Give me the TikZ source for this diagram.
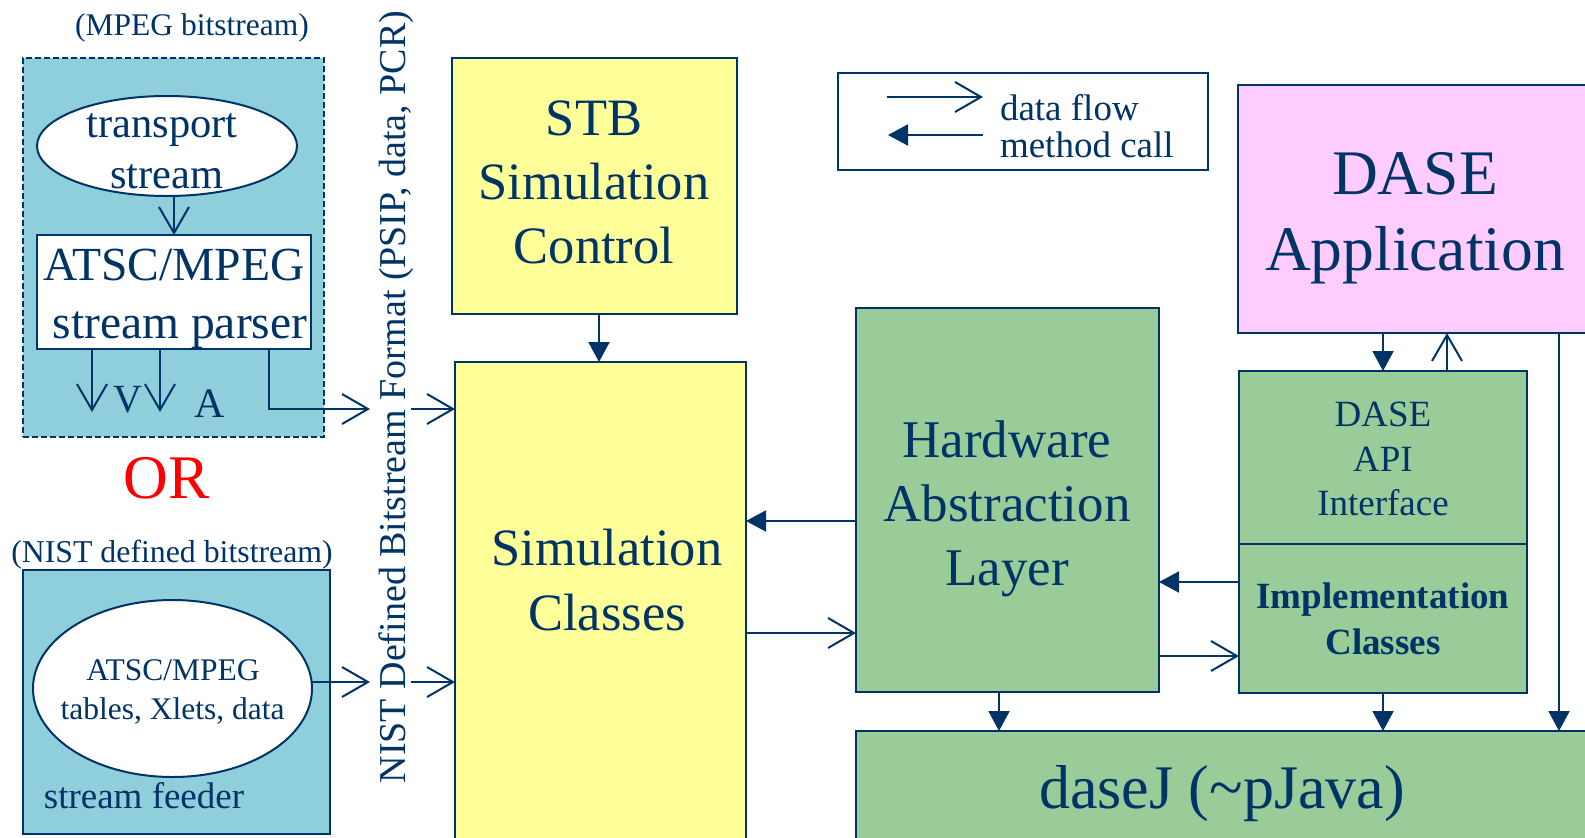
\documentclass[tikz,border=0pt]{standalone}
\usepackage{fontspec}
\setmainfont{Liberation Serif}
\usetikzlibrary{arrows.meta,shapes.geometric}
\definecolor{navy}{RGB}{0,51,102}
\definecolor{tealfill}{RGB}{143,207,219}
\definecolor{yel}{RGB}{255,255,153}
\definecolor{grn}{RGB}{153,204,153}
\definecolor{pnk}{RGB}{255,204,255}
\newcommand{\myfs}[1]{\fontsize{#1}{#1}\selectfont}
\begin{document}
\begin{tikzpicture}[x=1pt,y=-1pt,
  box/.style={draw=navy, line width=2pt, rectangle, inner sep=0pt, outer sep=0pt, anchor=north west},
  oval/.style={draw=navy, line width=2pt, fill=white, ellipse, inner sep=0pt, outer sep=0pt},
  lbl/.style={text=navy, inner sep=0pt, outer sep=0pt, anchor=base},
  flow/.style={draw=navy, line width=2pt, -{Straight Barb[length=26pt,width=30pt]}},
  call/.style={draw=navy, line width=2pt, -{Triangle[length=20pt,width=21pt]}}]
\useasboundingbox (0,0) rectangle (1585,838);

% ---------------- left: MPEG bitstream ----------------
\node[box, fill=tealfill, line width=1.6pt, dash pattern=on 6pt off 3pt, minimum width=301pt, minimum height=379pt] (mpegbox) at (23,58) {};
\node[lbl, font=\myfs{31.5}] (mpeglbl) at (192,35) {(MPEG bitstream)};
\node[oval, minimum width=260pt, minimum height=100pt] (ts) at (167,146) {};
\node[box, fill=white, minimum width=274pt, minimum height=114pt] (parser) at (37,235) {};

% ---------------- left: NIST bitstream ----------------
\node[lbl, font=\myfs{31.8}] (nistlbl) at (172,562) {(NIST defined bitstream)};
\node[box, fill=tealfill, minimum width=307pt, minimum height=264pt] (feeder) at (23,570) {};
\node[oval, minimum width=279pt, minimum height=177pt] (tables) at (172.5,688.5) {};

% ---------------- yellow boxes ----------------
\node[box, fill=yel, minimum width=285pt, minimum height=256pt] (stb) at (452,58) {};
\node[box, fill=yel, minimum width=291pt, minimum height=500pt] (sim) at (455,362) {};

% ---------------- legend ----------------
\node[box, fill=white, minimum width=370pt, minimum height=97pt] (legend) at (838,73) {};

% ---------------- green / pink boxes ----------------
\node[box, fill=grn, minimum width=303pt, minimum height=384pt] (hal) at (856,308) {};
\node[box, fill=pnk, minimum width=362pt, minimum height=248pt] (app) at (1238,85) {};
\node[box, fill=grn, minimum width=288pt, minimum height=173pt] (api) at (1239,371) {};
\node[box, fill=grn, minimum width=288pt, minimum height=149pt] (impl) at (1239,544) {};
\node[box, fill=grn, minimum width=744pt, minimum height=130pt] (dasej) at (856,731) {};

% ---------------- coordinates for connectors ----------------
\coordinate (cx1) at (174,0);
\coordinate (vx1) at (92,412);
\coordinate (vx2) at (160,412);
\coordinate (pc) at (269,409);
\coordinate (pe) at (370,409);
\coordinate (ps) at (411,409);
\coordinate (fa) at (370,682);
\coordinate (fs) at (411,682);
\coordinate (sx) at (599,0);
\coordinate (l1a) at (887,97);
\coordinate (l1b) at (983,97);
\coordinate (l2a) at (983,135);
\coordinate (l2b) at (888,135);
\coordinate (h1) at (0,521);
\coordinate (h2) at (0,633);
\coordinate (ax1) at (1383,0);
\coordinate (ax2) at (1447,0);
\coordinate (ax3) at (1559,0);
\coordinate (iy1) at (0,582);
\coordinate (iy2) at (0,656);
\coordinate (hx) at (999,0);

% ---------------- connectors ----------------
\draw[flow] (ts.south -| cx1) -- (parser.north -| cx1);
\draw[flow] (parser.south -| vx1) -- (vx1);
\draw[flow] (parser.south -| vx2) -- (vx2);
\draw[flow] (parser.south -| pc) -- (pc) -- (pe);
\draw[flow] (ps) -- (sim.west |- ps);
\draw[flow] (tables.east |- fa) -- (fa);
\draw[flow] (fs) -- (sim.west |- fs);
\draw[call] (stb.south -| sx) -- (sim.north -| sx);
\draw[flow] (l1a) -- (l1b);
\draw[call] (l2a) -- (l2b);
\draw[call] (hal.west |- h1) -- (sim.east |- h1);
\draw[flow] (sim.east |- h2) -- (hal.west |- h2);
\draw[call] (app.south -| ax1) -- (api.north -| ax1);
\draw[flow] (api.north -| ax2) -- (app.south -| ax2);
\draw[call] (app.south -| ax3) -- (dasej.north -| ax3);
\draw[call] (impl.west |- iy1) -- (hal.east |- iy1);
\draw[flow] (hal.east |- iy2) -- (impl.west |- iy2);
\draw[call] (hal.south -| hx) -- (dasej.north -| hx);
\draw[call] (impl.south -| ax1) -- (dasej.north -| ax1);

% ---------------- texts ----------------
\node[lbl, font=\myfs{42.5}] (ts1) at (162,137) {transport};
\node[lbl, font=\myfs{42.5}] (ts2) at (167,188) {stream};
\node[lbl, font=\myfs{47.5}] (p1) at (174,280) {ATSC/MPEG};
\node[lbl, font=\myfs{47.5}] (p2) at (180,338) {stream parser};
\node[lbl, font=\myfs{40}] (vlbl) at (128,412) {V};
\node[lbl, font=\myfs{42}] (albl) at (210,417) {A};
\node[lbl, text=red, font=\myfs{62}] (orlbl) at (167,498) {OR};
\node[lbl, font=\myfs{31.5}] (tb1) at (173,680) {ATSC/MPEG};
\node[lbl, font=\myfs{31.5}] (tb2) at (172.5,719) {tables, Xlets, data};
\node[lbl, font=\myfs{37}] (feedlbl) at (144,808) {stream feeder};
\node[lbl, rotate=90, font=\myfs{38}] (nist) at (405,397) {NIST Defined Bitstream Format (PSIP, data, PCR)};

\node[lbl, font=\myfs{52.5}] (stb1) at (594,135) {STB};
\node[lbl, font=\myfs{52.5}] (stb2) at (594,199) {Simulation};
\node[lbl, font=\myfs{52.5}] (stb3) at (594,263) {Control};
\node[lbl, font=\myfs{52.5}] (sim1) at (607,565) {Simulation};
\node[lbl, font=\myfs{52.5}] (sim2) at (607,630) {Classes};

\node[lbl, anchor=base west, font=\myfs{37}] (lg1) at (1000,120) {data flow};
\node[lbl, anchor=base west, font=\myfs{37}] (lg2) at (1000,157) {method call};

\node[lbl, font=\myfs{53}] (hal1) at (1007,457) {Hardware};
\node[lbl, font=\myfs{53}] (hal2) at (1007,521) {Abstraction};
\node[lbl, font=\myfs{53}] (hal3) at (1007,585) {Layer};

\node[lbl, font=\myfs{63.5}] (app1) at (1415,194) {DASE};
\node[lbl, font=\myfs{63.5}] (app2) at (1415,270) {Application};

\node[lbl, font=\myfs{37}] (api1) at (1383,426) {DASE};
\node[lbl, font=\myfs{37}] (api2) at (1383,471) {API};
\node[lbl, font=\myfs{37}] (api3) at (1383,515) {Interface};
\node[lbl, font=\bfseries\myfs{37}] (impl1) at (1383,608) {Implementation};
\node[lbl, font=\bfseries\myfs{37}] (impl2) at (1383,654) {Classes};

\node[lbl, font=\myfs{62}] (dasejlbl) at (1222,808) {daseJ (\textasciitilde pJava)};
\end{tikzpicture}
\end{document}
